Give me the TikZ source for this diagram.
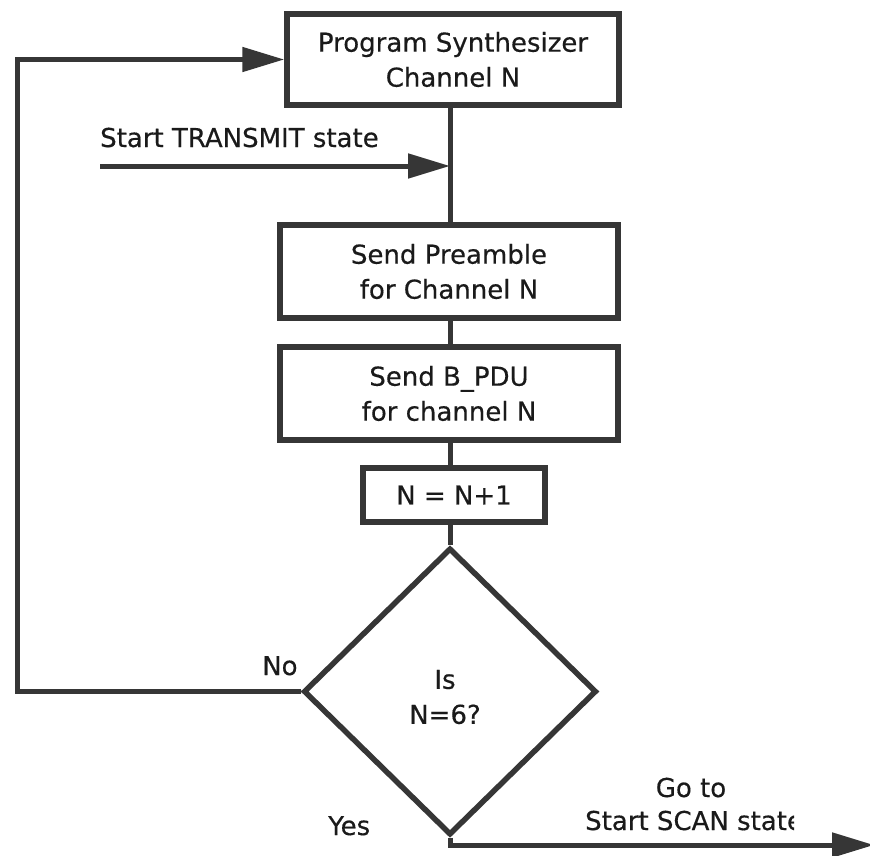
\documentclass[tikz,border=0pt]{standalone}
\usepackage{fontspec}
\setmainfont[FakeBold=0.4]{DejaVu Sans}
\usetikzlibrary{arrows.meta,shapes.geometric}
\definecolor{ink}{HTML}{363636}
\definecolor{txt}{HTML}{1A1A1A}
\tikzset{
  procbox/.style={draw=ink, line width=5.5pt, rectangle, inner sep=0pt, align=center, text=txt, font=\fontsize{26}{35}\selectfont},
  decbox/.style={draw=ink, line width=5.5pt, diamond, inner sep=0pt, minimum width=293pt, minimum height=287pt, aspect=1.02},
  conn/.style={draw=ink, line width=5pt},
  arr/.style={conn, -{Triangle[length=42pt,width=24pt]}},
  lbl/.style={text=txt, font=\fontsize{26}{35}\selectfont, inner sep=0pt, align=center},
}
\begin{document}
\begin{tikzpicture}[x=1pt,y=-1pt]
\useasboundingbox[fill=white] (0,0) rectangle (870,856);
\coordinate (col) at (450,0);
\node[procbox, minimum width=332pt, minimum height=91pt] (b1) at (453,59.5) {Program Synthesizer\\Channel N};
\node[procbox, minimum width=338pt, minimum height=93pt] (b2) at (449,271.5) {Send Preamble\\for Channel N};
\node[procbox, minimum width=338pt, minimum height=93pt] (b3) at (449,393.5) {Send B\_PDU\\for channel N};
\node[procbox, minimum width=182pt, minimum height=54pt] (b4) at (454,495) {N = N+1};
\node[decbox] (q) at (450,691.5) {};
\node[lbl] (qt) at (445,697) {Is\\N=6?};
% trunk
\draw[conn] (b1.south -| col) -- (b2.north -| col);
\draw[conn] (b2.south -| col) -- (b3.north -| col);
\draw[conn] (b3.south -| col) -- (b4.north -| col);
\draw[conn] (b4.south -| col) -- (q.north);
% start transmit
\node[lbl, anchor=base west] (tlbl) at (100,147) {Start TRANSMIT state};
\coordinate (ts) at (100,166);
\draw[arr] (ts) -- (ts -| col);
% loop back
\coordinate (lx) at (17,400);
\draw[arr] (q.west) -| (lx) |- (b1.west);
\node[lbl, anchor=base west] (no) at (262,675) {No};
% exit
\coordinate (scan) at (874,845);
\draw[arr] (q.south) |- (scan);
\node[lbl, anchor=base west] (yes) at (328,835) {Yes};
\node[lbl, anchor=base] (goto) at (691,797) {Go to};
\begin{scope}
\clip (575,800) rectangle (794,842);
\node[lbl, anchor=base west] (scanlbl) at (585,830) {Start SCAN state};
\end{scope}
\end{tikzpicture}
\end{document}
